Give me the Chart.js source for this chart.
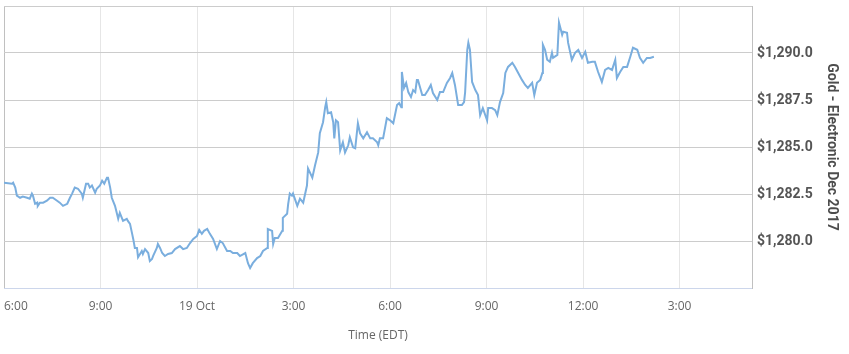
<!DOCTYPE html>
<html>
<head>
<meta charset="utf-8">
<script src="https://cdn.jsdelivr.net/npm/chart.js@4.4.0/dist/chart.umd.min.js"></script>
<style>
  html, body { margin: 0; padding: 0; background: #fff; }
</style>
</head>
<body>
<canvas id="goldChart" width="849" height="354"></canvas>
<script>
// minutes after 6:00 PM on 18 Oct (EDT)
const minutes = [
  0, 15, 17, 21, 24, 30, 35, 43, 48, 52, 54, 58, 62, 63, 67, 73, 80, 86, 91, 99,
  104, 110, 118, 123, 127, 132, 138, 145, 147, 153, 157, 160, 164, 170, 173, 179, 183, 187, 192, 194,
  198, 201, 207, 213, 216, 222, 229, 231, 235, 239, 241, 244, 248, 250, 257, 259, 263, 269, 272, 276,
  278, 285, 287, 291, 295, 300, 306, 313, 319, 328, 334, 341, 347, 353, 360, 364, 369, 373, 379, 384,
  390, 397, 403, 408, 416, 422, 427, 435, 440, 450, 455, 459, 464, 472, 478, 483, 491, 492, 500, 502,
  505, 511, 519, 520, 528, 530, 533, 537, 539, 547, 552, 558, 565, 567, 575, 580, 586, 589, 595, 599,
  601, 604, 610, 614, 616, 619, 623, 627, 632, 636, 642, 645, 651, 655, 660, 664, 670, 677, 683, 688,
  696, 698, 701, 707, 714, 720, 726, 733, 737, 741, 742, 746, 750, 754, 759, 763, 767, 770, 772, 780,
  785, 791, 796, 800, 808, 813, 819, 826, 832, 836, 841, 847, 854, 858, 860, 864, 866, 869, 873, 879,
  884, 888, 893, 901, 903, 910, 916, 920, 925, 931, 935, 940, 948, 953, 959, 966, 972, 977, 985, 989,
  994, 1000, 1004, 1005, 1009, 1013, 1018, 1022, 1024, 1032, 1035, 1041, 1043, 1050, 1052, 1059, 1065, 1071, 1078, 1084,
  1089, 1097, 1102, 1108, 1115, 1121, 1127, 1134, 1140, 1143, 1149, 1155, 1162, 1168, 1173, 1181, 1186, 1192, 1199, 1205,
  1212
];
const prices = [
  1283.10, 1283.05, 1283.10, 1282.84, 1282.41, 1282.30, 1282.36, 1282.30, 1282.25, 1282.52, 1282.41, 1281.98, 1282.04, 1281.87, 1282.04, 1282.04, 1282.14, 1282.30, 1282.30, 1282.14,
  1282.04, 1281.87, 1281.98, 1282.30, 1282.52, 1282.84, 1282.78, 1282.52, 1282.30, 1283.05, 1283.05, 1282.84, 1282.95, 1282.57, 1282.78, 1282.95, 1283.21, 1283.05, 1283.37, 1283.37,
  1282.84, 1282.30, 1281.87, 1281.18, 1281.50, 1281.07, 1281.18, 1281.07, 1280.91, 1280.38, 1280.11, 1279.63, 1279.63, 1279.14, 1279.47, 1279.31, 1279.57, 1279.36, 1278.93, 1279.04,
  1279.20, 1279.63, 1279.84, 1279.63, 1279.36, 1279.20, 1279.31, 1279.36, 1279.57, 1279.73, 1279.57, 1279.63, 1279.89, 1280.11, 1280.27, 1280.59, 1280.38, 1280.54, 1280.64, 1280.38,
  1280.11, 1279.57, 1280.00, 1279.89, 1279.47, 1279.47, 1279.36, 1279.36, 1279.20, 1279.36, 1278.82, 1278.56, 1278.82, 1279.09, 1279.20, 1279.47, 1279.63, 1280.64, 1280.54, 1279.84,
  1280.16, 1280.16, 1280.54, 1281.23, 1281.45, 1281.98, 1282.52, 1282.41, 1282.52, 1281.87, 1282.25, 1282.04, 1282.95, 1283.86, 1283.37, 1284.02, 1284.71, 1285.73, 1286.32, 1287.12,
  1287.39, 1286.80, 1286.85, 1286.32, 1285.46, 1286.42, 1286.32, 1284.82, 1285.25, 1284.71, 1285.09, 1285.52, 1284.98, 1284.93, 1286.26, 1285.73, 1285.46, 1285.78, 1285.46, 1285.46,
  1285.25, 1285.09, 1285.46, 1285.46, 1286.53, 1286.42, 1286.26, 1287.23, 1287.33, 1287.12, 1288.99, 1288.14, 1288.41, 1287.92, 1287.66, 1288.03, 1287.92, 1288.57, 1288.57, 1287.76,
  1287.76, 1288.03, 1288.30, 1287.87, 1287.50, 1287.92, 1287.92, 1288.41, 1288.67, 1288.94, 1288.30, 1287.23, 1287.23, 1287.39, 1287.92, 1290.17, 1290.55, 1290.17, 1288.46, 1288.03,
  1287.76, 1286.69, 1287.07, 1286.42, 1287.07, 1287.07, 1286.96, 1286.69, 1287.39, 1287.87, 1288.94, 1289.26, 1289.48, 1289.26, 1288.94, 1288.57, 1288.30, 1288.14, 1288.41, 1287.76,
  1288.41, 1288.57, 1288.94, 1290.44, 1290.17, 1289.64, 1289.53, 1290.01, 1289.74, 1289.90, 1291.62, 1290.97, 1291.13, 1291.08, 1290.55, 1289.64, 1290.01, 1290.17, 1289.74, 1290.06,
  1289.48, 1289.53, 1289.53, 1288.99, 1288.46, 1289.10, 1289.21, 1289.10, 1289.64, 1288.67, 1288.99, 1289.26, 1289.26, 1289.80, 1290.28, 1290.17, 1289.74, 1289.48, 1289.74, 1289.74,
  1289.80
];

// x axis: one tick every 3 hours
const xTickValues = [0, 180, 360, 540, 720, 900, 1080, 1260];
const xTickLabels = ["6:00", "9:00", "19 Oct", "3:00", "6:00", "9:00", "12:00", "3:00"];
const xMax = 1395;

// y axis
const yTickValues = [1280, 1282.5, 1285, 1287.5, 1290];
const yTickLabels = ["$1,280.0", "$1,282.5", "$1,285.0", "$1,287.5", "$1,290.0"];

const points = minutes.map((m, i) => ({ x: m, y: prices[i] }));

const ctx = document.getElementById("goldChart").getContext("2d");

new Chart(ctx, {
  type: "line",
  data: {
    datasets: [
      {
        label: "Gold - Electronic Dec 2017",
        data: points,
        borderColor: "#7aaede",
        borderWidth: 2,
        pointRadius: 0,
        tension: 0,
        fill: false,
      },
    ],
  },
  options: {
    responsive: false,
    animation: false,
    layout: { padding: { left: 4, top: 6, right: 0, bottom: 0 } },
    plugins: {
      legend: { display: false },
      tooltip: { enabled: false },
    },
    scales: {
      x: {
        type: "linear",
        min: 0,
        max: xMax,
        afterBuildTicks: (scale) => {
          // extra blank tick at the end so "inner" alignment only shifts the first label
          scale.ticks = xTickValues.map((v) => ({ value: v })).concat([{ value: xMax }]);
        },
        afterFit: (scale) => {
          scale.height = 66;
          scale.paddingLeft = 0;
          scale.paddingRight = 0;
        },
        ticks: {
          autoSkip: false,
          maxRotation: 0,
          align: "inner",
          padding: 11,
          color: "#666",
          font: { family: "'Open Sans'", size: 12 },
          callback: (value) => {
            const i = xTickValues.indexOf(value);
            return i >= 0 ? xTickLabels[i] : "";
          },
        },
        grid: {
          drawTicks: false,
          color: (c) => (c.tick && (c.tick.value === 0 || c.tick.value === xMax) ? "#c0c0c0" : "#e6e6e6"),
        },
        border: { color: "#ccd6eb" },
        title: {
          display: true,
          text: "Time (EDT)",
          color: "#666",
          font: { family: "'Open Sans'", size: 12 },
          padding: { top: 0, bottom: 11 },
        },
      },
      y: {
        position: "right",
        min: 1277.5,
        max: 1292.5,
        afterFit: (scale) => {
          scale.width = 97;
          scale.paddingTop = 0;
          scale.paddingBottom = 0;
        },
        ticks: {
          stepSize: 2.5,
          padding: 5,
          color: "#555",
          font: { family: "Roboto", size: 14, weight: "bold" },
          callback: (value) => {
            const i = yTickValues.indexOf(value);
            return i >= 0 ? yTickLabels[i] : "";
          },
        },
        grid: {
          drawTicks: false,
          color: "#cccccc",
        },
        border: { color: "#c0c0c0" },
        title: {
          display: true,
          text: "Gold - Electronic Dec 2017",
          color: "#4d4d4d",
          font: { family: "Roboto", size: 14, weight: "bold" },
          padding: { top: 9, bottom: 0 },
        },
      },
    },
  },
});
</script>
</body>
</html>
